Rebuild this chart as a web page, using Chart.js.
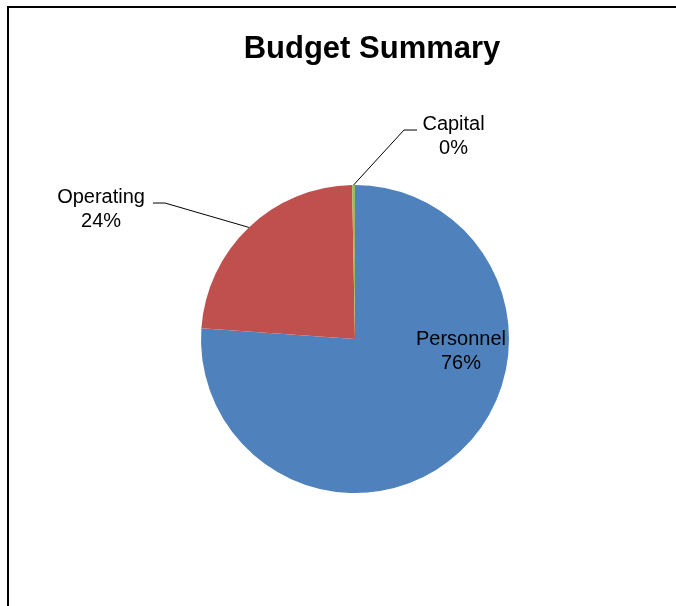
<!DOCTYPE html>
<html>
<head>
<meta charset="utf-8">
<script src="https://cdn.jsdelivr.net/npm/chart.js@4.4.0/dist/chart.umd.min.js"></script>
<style>
  html, body { margin: 0; padding: 0; background: #fff; overflow: hidden; }
  #frame {
    position: absolute; left: 7px; top: 6px;
    width: 726px; height: 600px;
    border-top: 2px solid #000; border-left: 2px solid #000;
  }
  #chart { display: block; }
</style>
</head>
<body>
<div id="frame"><canvas id="chart" width="726" height="598"></canvas></div>
<script>
const categories = ['Personnel', 'Operating', 'Capital'];
const values = [76.1, 23.6, 0.3];
const colors = ['#4F81BD', '#C0504D', '#9BBB59'];
const titleText = 'Budget Summary';

// label placement, as fractions of the pie radius from its centre
// text: centre of the two-line label; line: leader elbow points (null = inside label)
const labelSpots = [
    { text: [0.688, 0.084], line: null },
    { text: [-1.649, -0.844], line: [[-1.312, -0.883], [-1.234, -0.883]] },
    { text: [0.64, -1.318], line: [[0.403, -1.357], [0.318, -1.357]] }
];

const fontFamily = '"Liberation Sans", Arial, sans-serif';

// Chart title is centred over the whole chart box, not over the pie
const chartTitle = {
    id: 'chartTitle',
    afterDraw(chart) {
        const ctx = chart.ctx;
        ctx.save();
        ctx.font = 'bold 31px ' + fontFamily;
        ctx.fillStyle = '#000';
        ctx.textAlign = 'center';
        ctx.textBaseline = 'middle';
        ctx.fillText(titleText, chart.width / 2, 41);
        ctx.restore();
    }
};

const pieLabels = {
    id: 'pieLabels',
    afterDatasetsDraw(chart) {
        const ctx = chart.ctx;
        const meta = chart.getDatasetMeta(0);
        const total = values.reduce((a, b) => a + b, 0);
        ctx.save();
        ctx.font = '20px ' + fontFamily;
        ctx.fillStyle = '#000';
        ctx.textAlign = 'center';
        ctx.textBaseline = 'middle';
        meta.data.forEach((arc, i) => {
            const { x, y, outerRadius: r, startAngle, endAngle } = arc.getProps(['x', 'y', 'outerRadius', 'startAngle', 'endAngle'], true);
            const spot = labelSpots[i];
            const tx = x + spot.text[0] * r;
            const ty = y + spot.text[1] * r;
            const pct = Math.round(values[i] / total * 100) + '%';
            ctx.fillText(categories[i], tx, ty - 12);
            ctx.fillText(pct, tx, ty + 12);
            if (spot.line) {
                const mid = (startAngle + endAngle) / 2;
                ctx.beginPath();
                ctx.strokeStyle = '#000';
                ctx.lineWidth = 1;
                ctx.moveTo(x + spot.line[0][0] * r, y + spot.line[0][1] * r);
                ctx.lineTo(x + spot.line[1][0] * r, y + spot.line[1][1] * r);
                ctx.lineTo(x + Math.cos(mid) * r, y + Math.sin(mid) * r);
                ctx.stroke();
            }
        });
        ctx.restore();
    }
};

new Chart(document.getElementById('chart'), {
    type: 'pie',
    data: {
        labels: categories,
        datasets: [{
            data: values,
            backgroundColor: colors,
            borderWidth: 0
        }]
    },
    options: {
        responsive: false,
        animation: false,
        layout: { padding: { top: 177, bottom: 113, left: 40, right: 74 } },
        plugins: {
            legend: { display: false },
            tooltip: { enabled: false },
            title: { display: false }
        }
    },
    plugins: [pieLabels, chartTitle]
});
</script>
</body>
</html>
